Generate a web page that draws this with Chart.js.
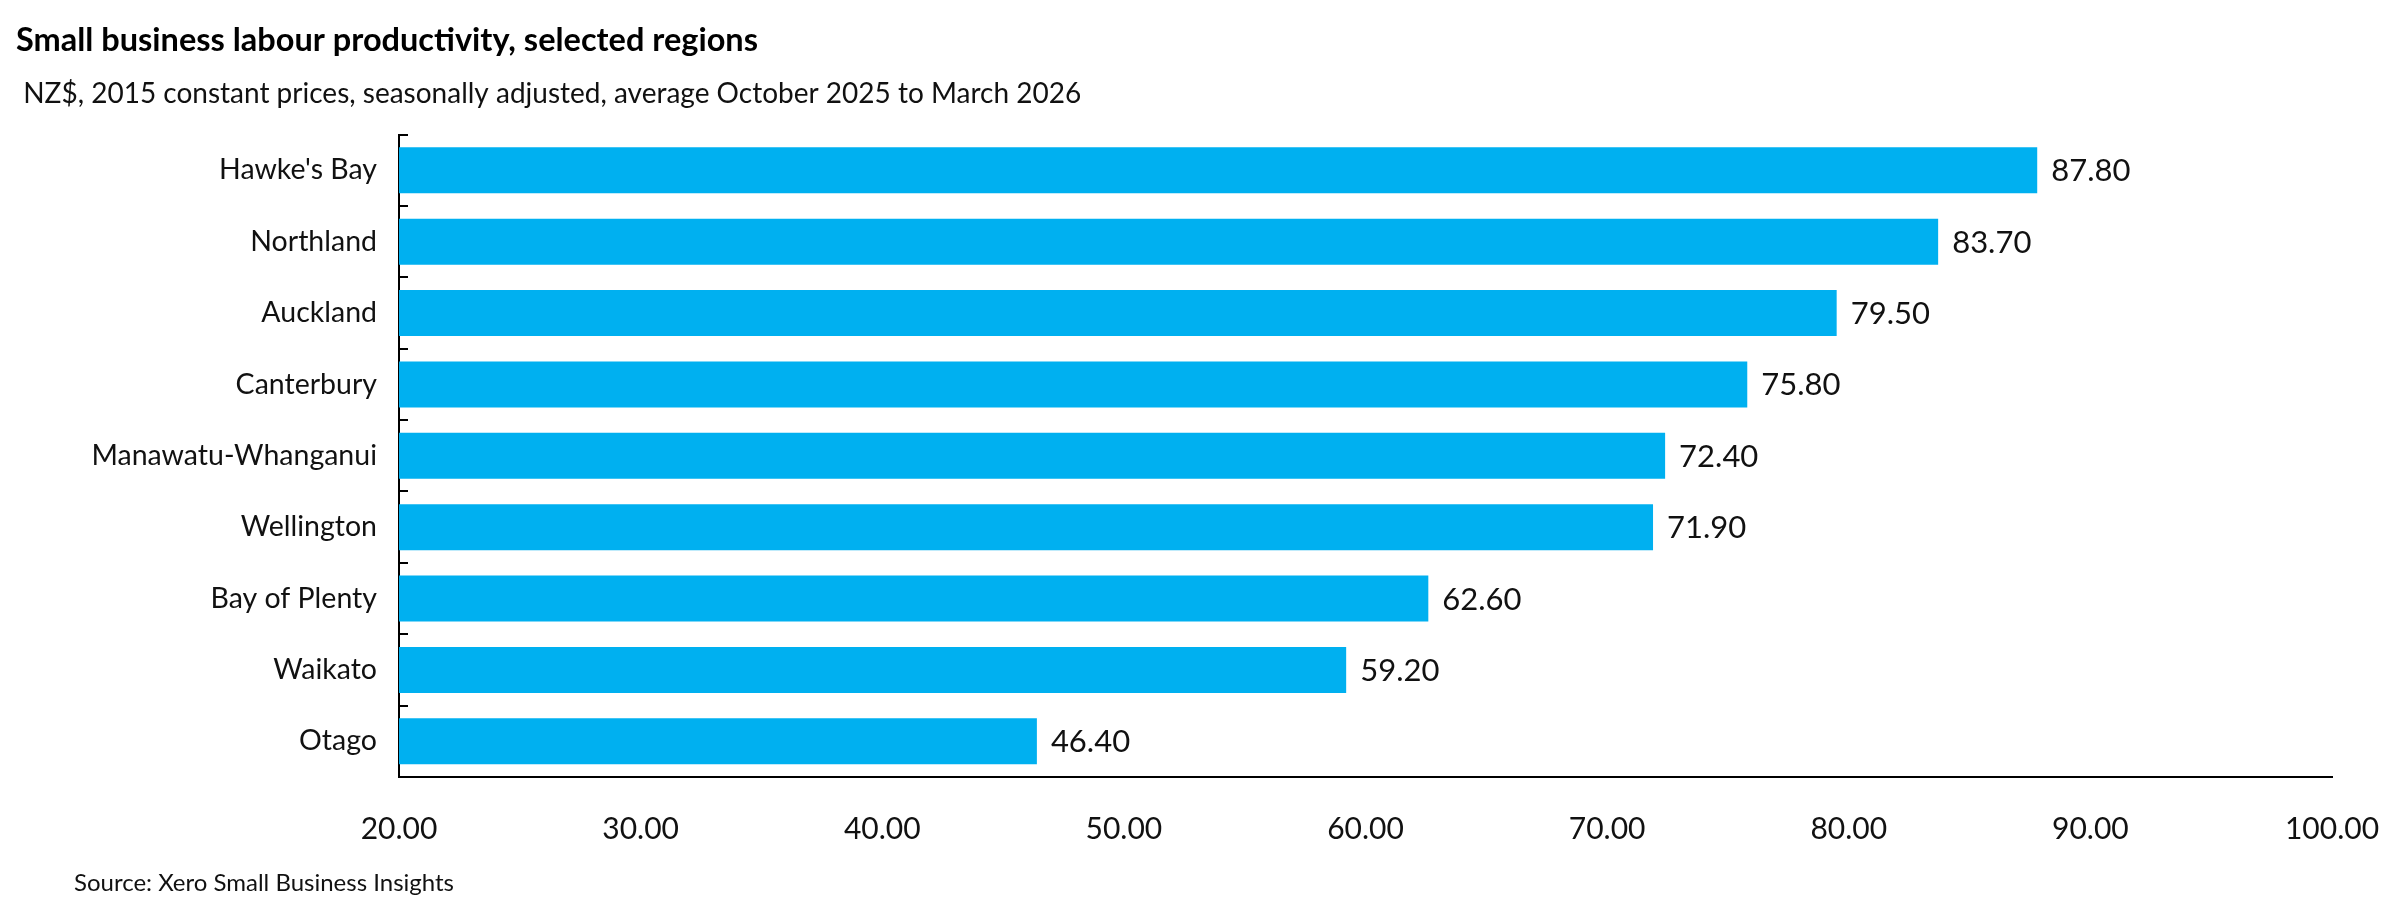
<!DOCTYPE html>
<html>
<head>
<meta charset="utf-8">
<script src="https://cdn.jsdelivr.net/npm/chart.js@4.4.1/dist/chart.umd.min.js"></script>
<style>
    html, body { margin: 0; padding: 0; background: #ffffff; }
    #wrap { width: 2400px; height: 909px; }
</style>
</head>
<body>
<div id="wrap"><canvas id="myChart" width="2400" height="909"></canvas></div>
<script>
// data
const regions = ["Hawke's Bay", "Northland", "Auckland", "Canterbury", "Manawatu-Whanganui",
    "Wellington", "Bay of Plenty", "Waikato", "Otago"];
const productivity = [87.8, 83.7, 79.5, 75.8, 72.4, 71.9, 62.6, 59.2, 46.4];
const xMin = 20;
const xMax = 100;
const xStep = 10;

const chartTitle = 'Small business labour productivity, selected regions';
const chartSubtitle = ' NZ$, 2015 constant prices, seasonally adjusted, average October 2025 to March 2026';
const sourceText = 'Source: Xero Small Business Insights';

const FONT = "Lato, 'Noto Sans', sans-serif";

// value labels at the end of each bar
const valueLabels = {
    id: 'valueLabels',
    afterDatasetsDraw(chart) {
        const ctx = chart.ctx;
        const meta = chart.getDatasetMeta(0);
        ctx.save();
        ctx.font = '31px ' + FONT;
        ctx.fillStyle = '#111111';
        ctx.textAlign = 'left';
        ctx.textBaseline = 'middle';
        meta.data.forEach((bar, i) => {
            ctx.fillText(productivity[i].toFixed(2), bar.x + 14, bar.y + 1);
        });
        ctx.restore();
    }
};

// small tick marks pointing into the plot between categories, plus source note
const innerTicks = {
    id: 'innerTicks',
    afterDraw(chart) {
        const ctx = chart.ctx;
        const y = chart.scales.y;
        ctx.save();
        ctx.strokeStyle = '#000000';
        ctx.lineWidth = 2;
        for (let i = 0; i <= regions.length; i++) {
            const py = Math.round(y.getPixelForValue(i - 0.5));
            ctx.beginPath();
            ctx.moveTo(y.right, py);
            ctx.lineTo(y.right + 9, py);
            ctx.stroke();
        }
        ctx.font = '24px ' + FONT;
        ctx.fillStyle = '#111111';
        ctx.textAlign = 'left';
        ctx.textBaseline = 'middle';
        ctx.fillText(sourceText, 74, 883);
        ctx.restore();
    }
};

const data = {
    labels: regions,
    datasets: [
        {
            data: productivity,
            backgroundColor: '#00b0f0',
            borderWidth: 0,
            barPercentage: 0.645,
            categoryPercentage: 1
        }
    ]
};

const options = {
    indexAxis: 'y',
    responsive: false,
    animation: false,
    layout: {
        padding: { left: 16, right: 68, top: 0, bottom: 0 }
    },
    plugins: {
        legend: { display: false },
        tooltip: { enabled: false },
        title: {
            display: true,
            text: chartTitle,
            align: 'start',
            color: '#000000',
            font: { family: FONT, size: 32.5, weight: 'bold', lineHeight: 1.2 },
            padding: { top: 21, bottom: 0 }
        },
        subtitle: {
            display: true,
            text: chartSubtitle,
            align: 'start',
            color: '#111111',
            font: { family: FONT, size: 28, lineHeight: 1.2 },
            padding: { top: 17, bottom: 24 }
        }
    },
    scales: {
        y: {
            grid: { display: false, drawTicks: false },
            border: { display: true, color: '#000000', width: 2 },
            ticks: {
                color: '#111111',
                padding: 22,
                font: { family: FONT, size: 28.5 }
            },
            afterFit: function (scale) {
                scale.width = 383;
            }
        },
        x: {
            min: xMin,
            max: xMax,
            grid: { display: false, drawTicks: false },
            border: { display: true, color: '#000000', width: 2 },
            ticks: {
                stepSize: xStep,
                color: '#111111',
                padding: 34,
                maxRotation: 0,
                font: { family: FONT, size: 30 },
                callback: function (val) {
                    return Number(val).toFixed(2);
                }
            },
            afterFit: function (scale) {
                scale.height = 132;
                // let the layout padding decide where the plot ends
                scale.paddingLeft = 0;
                scale.paddingRight = 0;
            }
        }
    }
};

new Chart(document.getElementById('myChart'), {
    type: 'bar',
    data: data,
    options: options,
    plugins: [valueLabels, innerTicks]
});
</script>
</body>
</html>
